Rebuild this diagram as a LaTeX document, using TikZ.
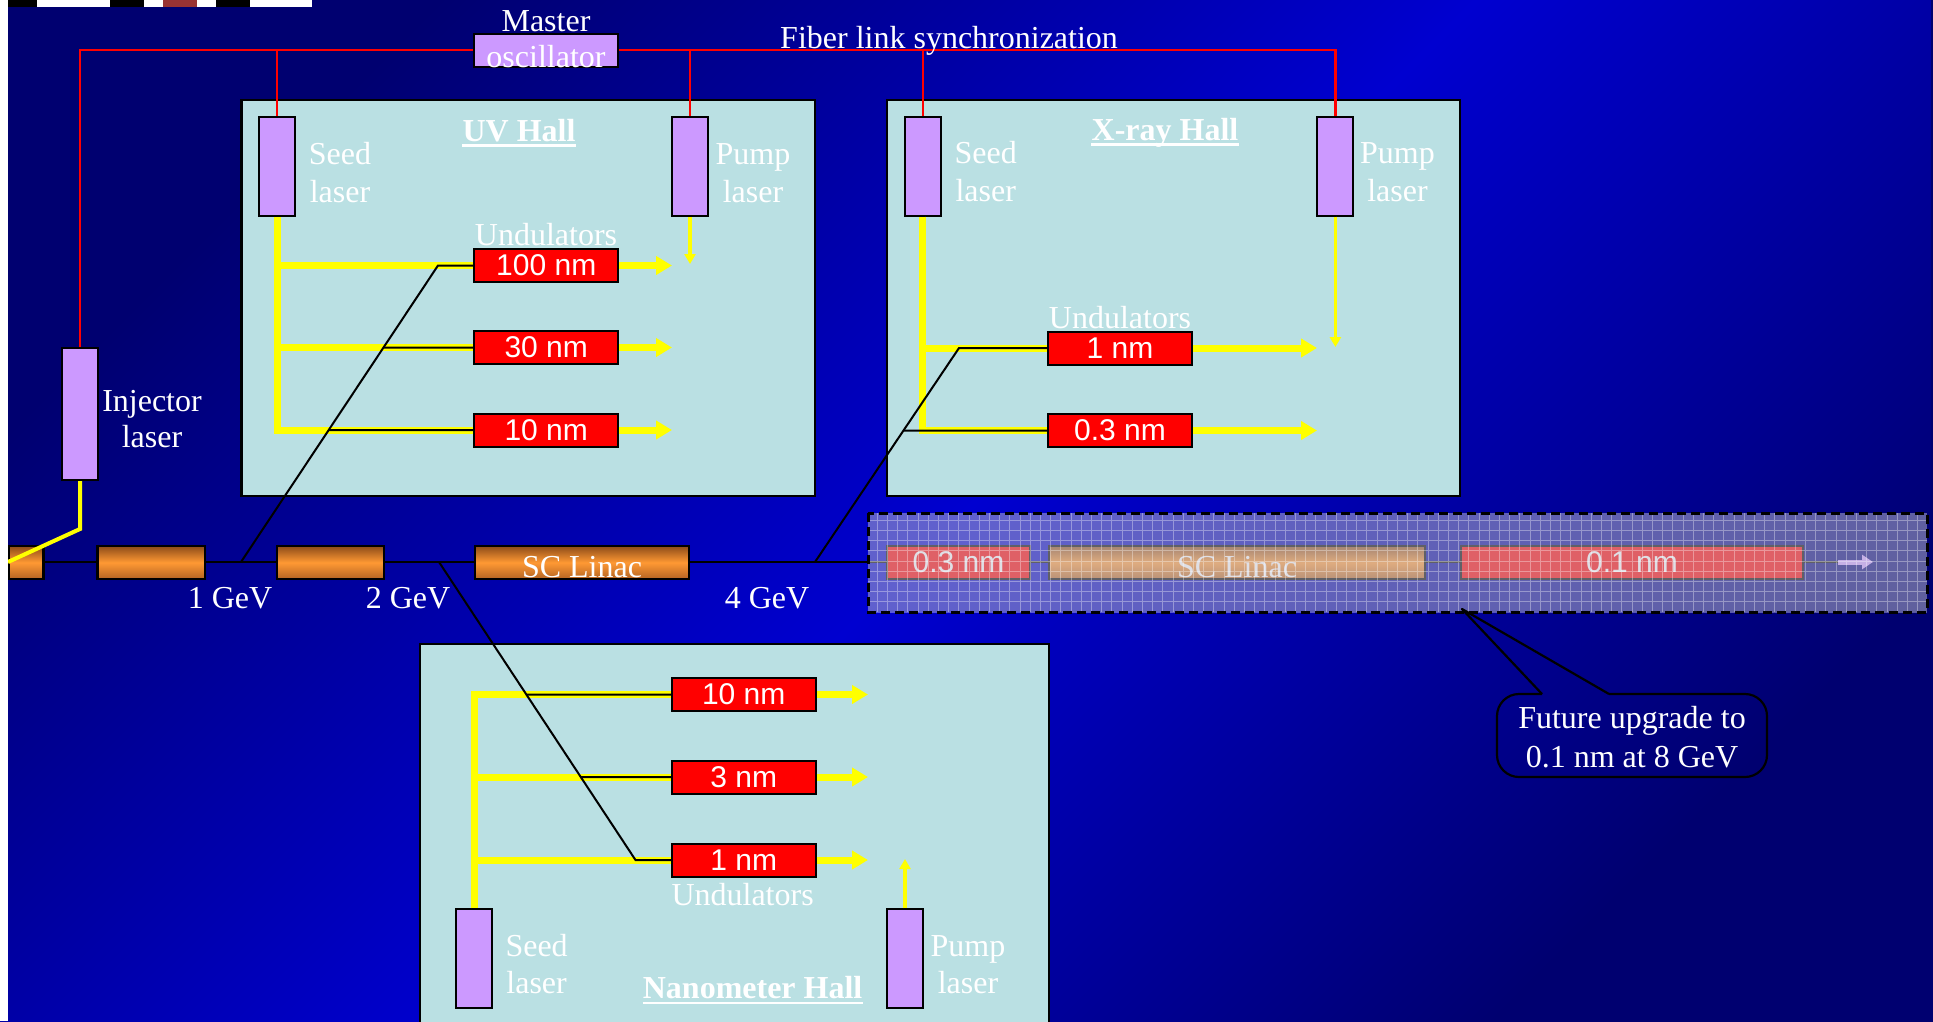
\documentclass[tikz,border=0pt]{standalone}
\usepackage{fontspec}
\setmainfont{Liberation Serif}
\setsansfont{Liberation Sans}
\usetikzlibrary{arrows.meta}
\definecolor{bgdark}{RGB}{0,0,112}
\definecolor{bgbright}{RGB}{0,0,208}
\definecolor{hallcol}{RGB}{186,224,227}
\definecolor{lasercol}{RGB}{204,153,255}
\definecolor{undred}{RGB}{255,0,0}
\definecolor{fiberred}{RGB}{255,0,0}
\definecolor{beamyellow}{RGB}{255,255,0}
\definecolor{orangemid}{RGB}{255,153,51}
\definecolor{orangetop}{RGB}{140,75,25}
\definecolor{orangebot}{RGB}{180,100,35}
\definecolor{veilcol}{RGB}{192,192,205}
\definecolor{barbrown}{RGB}{153,51,51}
\definecolor{lavender}{RGB}{204,160,255}
\begin{document}
\begin{tikzpicture}[x=1pt,y=-1pt,
  txt/.style={text=white,inner sep=0pt,font=\fontsize{32}{37}\selectfont},
  title/.style={text=white,inner sep=0pt,font=\bfseries\fontsize{32}{37}\selectfont},
  laser/.style={draw=black,line width=2pt,fill=lasercol,minimum width=36pt,minimum height=99pt,inner sep=0pt},
  und/.style={draw=black,line width=2pt,fill=undred,minimum width=144pt,minimum height=33pt,inner sep=0pt,text=white,font=\sffamily\fontsize{30}{36}\selectfont},
  linac/.style={draw=black,line width=2.5pt,top color=orangetop,bottom color=orangebot,middle color=orangemid,minimum height=33pt,inner sep=0pt},
  hall/.style={draw=black,line width=2.5pt,fill=hallcol,inner sep=0pt},
  fiber/.style={draw=fiberred,line width=2.3pt},
  ybeam/.style={draw=beamyellow,line width=7pt},
  yarrow/.style={draw=beamyellow,line width=7pt,-{Triangle[length=16pt,width=18pt]}},
  ythin/.style={draw=beamyellow,line width=3.5pt,-{Triangle[length=10pt,width=11pt]}},
  ebeam/.style={draw=black,line width=2pt},
  beamline/.style={draw=black,line width=2.4pt},
  ulined/.style={draw=white,line width=2.5pt}
]
\clip (0,0) rectangle (1933,1021);
% background
\shade[top color=bgdark,bottom color=bgdark,middle color=bgbright,shading angle=45] (0,0) rectangle (1933,1021);
\fill[bgdark] (1931,0) rectangle (1933,1021);
% top bar
\fill[black] (8,0) rectangle (37,7);
\fill[white] (37,0) rectangle (110,7);
\fill[black] (110,0) rectangle (144,7);
\fill[white] (144,0) rectangle (163,7);
\fill[barbrown] (163,0) rectangle (197,7);
\fill[white] (197,0) rectangle (216,7);
\fill[black] (216,0) rectangle (250,7);
\fill[white] (250,0) rectangle (312,7);

% halls
\node[hall,minimum width=573.5pt,minimum height=396pt] (uvhall) at (528.25,298) {};
\node[hall,minimum width=573pt,minimum height=396pt] (xhall) at (1173.5,298) {};
\node[hall,minimum width=629pt,minimum height=420pt] (nhall) at (734.5,854) {};

% lasers
\node[laser] (uvseed) at (277,166.5) {};
\node[laser] (uvpump) at (690,166.5) {};
\node[laser] (xseed) at (922.8,166) {};
\node[laser] (xpump) at (1335.4,166) {};
\node[laser] (nseed) at (474,958.5) {};
\node[laser] (npump) at (905,958.5) {};
\node[laser,minimum height=132pt] (inj) at (80,414) {};

% fiber link
\coordinate (fibL) at (80,50);
\coordinate (fibR) at (1335.4,50);
\draw[fiber] (inj.north) -- (fibL) -- (fibR) -- (xpump.north);
\draw[fiber] (uvseed.north) -- (uvseed.north |- fibL);
\draw[fiber] (uvpump.north) -- (uvpump.north |- fibL);
\draw[fiber] (xseed.north) -- (xseed.north |- fibL);
\node[draw=black,line width=2pt,fill=lasercol,minimum width=143.5pt,minimum height=33pt,inner sep=0pt] (master) at (546,50.5) {};
\node[txt,align=center,anchor=north,font=\fontsize{32}{36}\selectfont] (mastertxt) at (546,10) {Master\\oscillator};
\node[txt,anchor=base west] (fibertxt) at (780,48) {Fiber link synchronization};

% text labels of lasers
\node[txt,align=center,anchor=north,font=\fontsize{32}{36}\selectfont] (injtxt) at (152,390) {Injector\\laser};
\node[txt,align=center,anchor=north,font=\fontsize{32}{38}\selectfont] (uvseedtxt) at (340,142) {Seed\\laser};
\node[txt,align=center,anchor=north,font=\fontsize{32}{38}\selectfont] (uvpumptxt) at (753,143) {Pump\\laser};
\node[txt,align=center,anchor=north,font=\fontsize{32}{38}\selectfont] (xseedtxt) at (985.7,141) {Seed\\laser};
\node[txt,align=center,anchor=north,font=\fontsize{32}{38}\selectfont] (xpumptxt) at (1397.5,142) {Pump\\laser};
\node[txt,align=center,anchor=north,font=\fontsize{32}{37}\selectfont] (nseedtxt) at (536.6,934) {Seed\\laser};
\node[txt,align=center,anchor=north,font=\fontsize{32}{37}\selectfont] (npumptxt) at (968,935) {Pump\\laser};

% hall titles
\node[title,anchor=base] (uvtitle) at (519,141) {UV Hall};
\draw[ulined] ([yshift=-4.5pt]uvtitle.base west) -- ([yshift=-4.5pt]uvtitle.base east);
\node[title,anchor=base] (xtitle) at (1165,140) {X-ray Hall};
\draw[ulined] ([yshift=-4.5pt]xtitle.base west) -- ([yshift=-4.5pt]xtitle.base east);
\node[title,anchor=base] (ntitle) at (752.6,998) {Nanometer Hall};
\draw[ulined] ([yshift=-5pt]ntitle.base west) -- ([yshift=-5pt]ntitle.base east);

% undulator labels
\node[txt,anchor=base] (uvundtxt) at (546,245) {Undulators};
\node[txt,anchor=base] (xundtxt) at (1120,328) {Undulators};
\node[txt,anchor=base] (nundtxt) at (742.6,905) {Undulators};

% undulators
\node[und] (u100) at (546.25,265.5) {100 nm};
\node[und] (u30) at (546.25,347.5) {30 nm};
\node[und] (u10) at (546.25,430) {10 nm};
\node[und] (x1) at (1120,348) {1 nm};
\node[und] (x03) at (1120,430.5) {0.3 nm};
\node[und] (n10) at (743.75,694.5) {10 nm};
\node[und] (n3) at (743.75,777) {3 nm};
\node[und] (n1) at (743.75,860) {1 nm};

% arrow ends
\coordinate (uvEnd) at (672,0);
\coordinate (xEnd) at (1317,0);
\coordinate (nEnd) at (868,0);
\coordinate (uvpumpEnd) at (690,264);
\coordinate (xpumpEnd) at (1335.4,347);
\coordinate (npumpEnd) at (905,859);

% yellow seed beams UV
\draw[ybeam] (uvseed.south) |- (u10.west);
\draw[ybeam] (uvseed.south |- u100.west) -- (u100.west);
\draw[ybeam] (uvseed.south |- u30.west) -- (u30.west);
\draw[yarrow] (u100.east) -- (u100.east -| uvEnd);
\draw[yarrow] (u30.east) -- (u30.east -| uvEnd);
\draw[yarrow] (u10.east) -- (u10.east -| uvEnd);
\draw[ythin] (uvpump.south) -- (uvpumpEnd);
% X-ray
\draw[ybeam] (xseed.south) |- (x03.west);
\draw[ybeam] (xseed.south |- x1.west) -- (x1.west);
\draw[yarrow] (x1.east) -- (x1.east -| xEnd);
\draw[yarrow] (x03.east) -- (x03.east -| xEnd);
\draw[ythin] (xpump.south) -- (xpumpEnd);
% Nanometer
\draw[ybeam] (nseed.north) |- (n10.west);
\draw[ybeam] (nseed.north |- n3.west) -- (n3.west);
\draw[ybeam] (nseed.north |- n1.west) -- (n1.west);
\draw[yarrow] (n10.east) -- (n10.east -| nEnd);
\draw[yarrow] (n3.east) -- (n3.east -| nEnd);
\draw[yarrow] (n1.east) -- (n1.east -| nEnd);
\draw[ythin] (npump.north) -- (npumpEnd);

% beamline and linacs
\coordinate (beamL) at (8,562);
\coordinate (beamEnd) at (1838,562);
\draw[beamline] (beamL) -- (beamEnd);
\node[linac,minimum width=35pt] (L0) at (26,562.5) {};
\node[linac,minimum width=107.4pt] (L1) at (151.3,562.5) {};
\node[linac,minimum width=107pt] (L2) at (330.5,562.5) {};
\node[linac,minimum width=214pt] (L3) at (582,562.5) {};
\node[txt,anchor=base] (L3txt) at (582,577) {SC Linac};
\node[txt,anchor=base] (gev1) at (230,608) {1 GeV};
\node[txt,anchor=base] (gev2) at (408,608) {2 GeV};
\node[txt,anchor=base] (gev4) at (767,608) {4 GeV};

% injector beam
\coordinate (injBend) at (80,529);
\draw[draw=beamyellow,line width=4pt] (inj.south) -- (injBend) -- (beamL);

% electron lines
\coordinate (tapUV) at (241,562);
\coordinate (kinkUV) at (438,265.5);
\draw[ebeam] (tapUV) -- (kinkUV) -- (u100.west);
\draw[ebeam] (intersection of tapUV--kinkUV and u30.west--u30.east) -- (u30.west);
\draw[ebeam] (intersection of tapUV--kinkUV and u10.west--u10.east) -- (u10.west);
\coordinate (tapX) at (815,562);
\coordinate (kinkX) at (959,348);
\draw[ebeam] (tapX) -- (kinkX) -- (x1.west);
\draw[ebeam] (intersection of tapX--kinkX and x03.west--x03.east) -- (x03.west);
\coordinate (tapN) at (439,562);
\coordinate (kinkN) at (635.5,860);
\draw[ebeam] (tapN) -- (kinkN) -- (n1.west);
\draw[ebeam] (intersection of tapN--kinkN and n10.west--n10.east) -- (n10.west);
\draw[ebeam] (intersection of tapN--kinkN and n3.west--n3.east) -- (n3.west);

% future upgrade
\node[und,minimum width=143pt] (F1) at (958.5,562.5) {0.3 nm};
\node[linac,minimum width=376pt,line width=2pt] (F2) at (1237,562.5) {};
\node[txt,anchor=base] (F2txt) at (1237,577) {SC Linac};
\node[und,minimum width=342pt] (F3) at (1632,562.5) {0.1 nm};
\coordinate (futArrow) at (1873,562);
\draw[draw=lavender,line width=5pt,-{Triangle[length=11pt,width=14pt]}] (beamEnd) -- (futArrow);
\coordinate (futNW) at (868,513);
\coordinate (futSE) at (1927,612);
\fill[veilcol,opacity=0.5] (futNW) rectangle (futSE);
\draw[white,opacity=0.35,line width=1pt,step=10.2pt] (futNW) grid (futSE);
\draw[black,line width=3pt,dash pattern=on 9pt off 5pt] (futNW) rectangle (futSE);

% callout
\coordinate (calTip) at (1462,609);
\coordinate (calA) at (1542,694);
\coordinate (calB) at (1609,694);
\draw[black,line width=2.2pt,rounded corners=22pt] (calA) -- (1497,694) -- (1497,777) -- (1767,777) -- (1767,694) -- (calB);
\draw[black,line width=2.2pt,line join=round] (calA) -- (calTip) -- (calB);
\node[txt,align=center,anchor=north,font=\fontsize{32}{39}\selectfont] (calltxt) at (1632,706) {Future upgrade to\\0.1 nm at 8 GeV};

% left white strip
\fill[white] (0,0) rectangle (8,1021);
\end{tikzpicture}
\end{document}
